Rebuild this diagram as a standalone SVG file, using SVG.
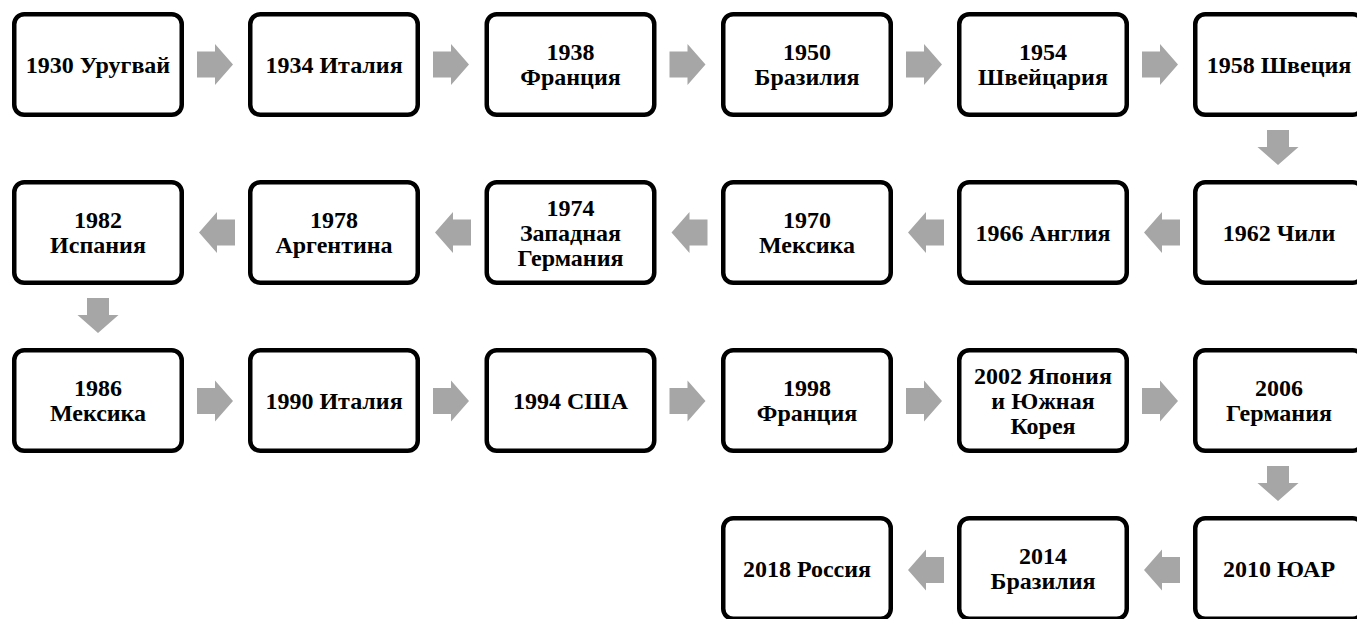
<svg xmlns="http://www.w3.org/2000/svg" xmlns:xlink="http://www.w3.org/1999/xlink" width="1357" height="619" viewBox="0 0 1357 619" font-family="'Liberation Serif', 'DejaVu Serif', serif">
<style>
.box{fill:#fff;stroke:#000;stroke-width:4.5}
text{font-family:'Liberation Serif','DejaVu Serif',serif;font-weight:700;font-size:24px;fill:#000;text-anchor:middle}
.arr{fill:#a6a6a6}
</style>
<defs>
<path id="ar" class="arr" d="M0,-13 H18 V-20.5 L36,0 L18,20.5 V13 H0 Z"/>
<path id="al" class="arr" d="M0,0 L18,-20.5 V-13 H36 V13 H18 V20.5 Z"/>
<path id="ad" class="arr" d="M-11,0 H11 V17 H20.5 L0,35 L-20.5,17 H-11 Z"/>
</defs>
<rect width="1357" height="619" fill="#fff"/>
<g id="connectors">
<use xlink:href="#ar" x="197" y="64.5"/>
<use xlink:href="#ar" x="433" y="64.5"/>
<use xlink:href="#ar" x="669.5" y="64.5"/>
<use xlink:href="#ar" x="906" y="64.5"/>
<use xlink:href="#ar" x="1142" y="64.5"/>
<use xlink:href="#ad" x="1278" y="130"/>
<use xlink:href="#al" x="1144" y="232.5"/>
<use xlink:href="#al" x="908" y="232.5"/>
<use xlink:href="#al" x="671.5" y="232.5"/>
<use xlink:href="#al" x="435" y="232.5"/>
<use xlink:href="#al" x="199" y="232.5"/>
<use xlink:href="#ad" x="98" y="298"/>
<use xlink:href="#ar" x="197" y="401"/>
<use xlink:href="#ar" x="433" y="401"/>
<use xlink:href="#ar" x="669.5" y="401"/>
<use xlink:href="#ar" x="906" y="401"/>
<use xlink:href="#ar" x="1142" y="401"/>
<use xlink:href="#ad" x="1278" y="466"/>
<use xlink:href="#al" x="1144" y="570"/>
<use xlink:href="#al" x="908" y="570"/>
</g>
<!-- Row 1 -->
<g id="n1930"><rect class="box" x="14.25" y="14.25" width="167.5" height="100.5" rx="10"/><text x="98" y="72.5">1930 Уругвай</text></g>
<g id="n1934"><rect class="box" x="250.25" y="14.25" width="167.5" height="100.5" rx="10"/><text x="334" y="72.5">1934 Италия</text></g>
<g id="n1938"><rect class="box" x="486.75" y="14.25" width="167.5" height="100.5" rx="10"/><text x="570.5" y="60">1938</text><text x="570.5" y="85">Франция</text></g>
<g id="n1950"><rect class="box" x="723.25" y="14.25" width="167.5" height="100.5" rx="10"/><text x="807" y="60">1950</text><text x="807" y="85">Бразилия</text></g>
<g id="n1954"><rect class="box" x="959.25" y="14.25" width="167.5" height="100.5" rx="10"/><text x="1043" y="60">1954</text><text x="1043" y="85">Швейцария</text></g>
<g id="n1958"><rect class="box" x="1195.25" y="14.25" width="167.5" height="100.5" rx="10"/><text x="1279" y="72.5">1958 Швеция</text></g>
<!-- Row 2 -->
<g id="n1982"><rect class="box" x="14.25" y="182.25" width="167.5" height="100.5" rx="10"/><text x="98" y="228">1982</text><text x="98" y="253">Испания</text></g>
<g id="n1978"><rect class="box" x="250.25" y="182.25" width="167.5" height="100.5" rx="10"/><text x="334" y="228">1978</text><text x="334" y="253">Аргентина</text></g>
<g id="n1974"><rect class="box" x="486.75" y="182.25" width="167.5" height="100.5" rx="10"/><text x="570.5" y="215.5">1974</text><text x="570.5" y="240.5">Западная</text><text x="570.5" y="265.5">Германия</text></g>
<g id="n1970"><rect class="box" x="723.25" y="182.25" width="167.5" height="100.5" rx="10"/><text x="807" y="228">1970</text><text x="807" y="253">Мексика</text></g>
<g id="n1966"><rect class="box" x="959.25" y="182.25" width="167.5" height="100.5" rx="10"/><text x="1043" y="240.5">1966 Англия</text></g>
<g id="n1962"><rect class="box" x="1195.25" y="182.25" width="167.5" height="100.5" rx="10"/><text x="1279" y="240.5">1962 Чили</text></g>
<!-- Row 3 -->
<g id="n1986"><rect class="box" x="14.25" y="350.25" width="167.5" height="100.5" rx="10"/><text x="98" y="396">1986</text><text x="98" y="421">Мексика</text></g>
<g id="n1990"><rect class="box" x="250.25" y="350.25" width="167.5" height="100.5" rx="10"/><text x="334" y="408.5">1990 Италия</text></g>
<g id="n1994"><rect class="box" x="486.75" y="350.25" width="167.5" height="100.5" rx="10"/><text x="570.5" y="408.5">1994 США</text></g>
<g id="n1998"><rect class="box" x="723.25" y="350.25" width="167.5" height="100.5" rx="10"/><text x="807" y="396">1998</text><text x="807" y="421">Франция</text></g>
<g id="n2002"><rect class="box" x="959.25" y="350.25" width="167.5" height="100.5" rx="10"/><text x="1043" y="383.5">2002 Япония</text><text x="1043" y="408.5">и Южная</text><text x="1043" y="433.5">Корея</text></g>
<g id="n2006"><rect class="box" x="1195.25" y="350.25" width="167.5" height="100.5" rx="10"/><text x="1279" y="396">2006</text><text x="1279" y="421">Германия</text></g>
<!-- Row 4 -->
<g id="n2018"><rect class="box" x="723.25" y="518.25" width="167.5" height="100.5" rx="10"/><text x="807" y="576.5">2018 Россия</text></g>
<g id="n2014"><rect class="box" x="959.25" y="518.25" width="167.5" height="100.5" rx="10"/><text x="1043" y="564">2014</text><text x="1043" y="589">Бразилия</text></g>
<g id="n2010"><rect class="box" x="1195.25" y="518.25" width="167.5" height="100.5" rx="10"/><text x="1279" y="576.5">2010 ЮАР</text></g>
</svg>
